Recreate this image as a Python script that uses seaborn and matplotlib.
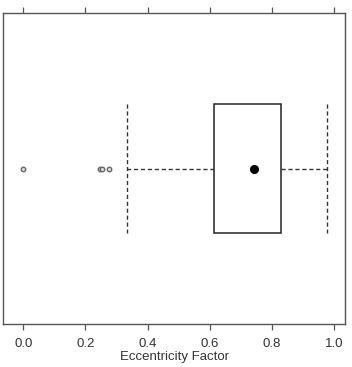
import numpy as np
import pandas as pd
import matplotlib
matplotlib.use("Agg")
import matplotlib.pyplot as plt
import seaborn as sns

# Values (Eccentricity Factor)
outliers = [0.0, 0.247, 0.253, 0.276]
whisker_low = 0.335
q1 = 0.614
median = 0.7425
q3 = 0.829
whisker_high = 0.9765
tick_values = [0.0, 0.2, 0.4, 0.6, 0.8, 1.0]
tick_labels = ["0.0", "0.2", "0.4", "0.6", "0.8", "1.0"]
xlabel = "Eccentricity Factor"

# Build a 21-point sample whose box statistics reproduce the summary above
sample = (outliers + [whisker_low] + [q1] * 5 + [median] + [q3] * 5
          + [q3] * 4 + [whisker_high])
df = pd.DataFrame({"value": sample})

sns.set_theme(style="ticks")
plt.rcParams["font.family"] = ["Liberation Sans Narrow", "Liberation Sans", "DejaVu Sans"]

fig = plt.figure(figsize=(3.52, 3.67), dpi=100)
ax = fig.add_axes([3 / 352, 1 - 324 / 367, 342 / 352, 310.7 / 367])

box_w = 0.415
dash = (0, (3, 2))
sns.boxplot(
    data=df, x="value", orient="h", ax=ax, width=box_w, whis=1.5,
    color="white", fill=True, linecolor="black", linewidth=1.1,
    boxprops=dict(facecolor="white", edgecolor="#222222", linewidth=1.1),
    whiskerprops=dict(color="#333333", linestyle=dash, linewidth=1.0),
    capprops=dict(color="#333333", linestyle=dash, linewidth=1.0),
    medianprops=dict(linewidth=0, alpha=0),
    flierprops=dict(marker="o", markersize=3.2, markerfacecolor="#dddddd",
                    markeredgecolor="#666666", markeredgewidth=1.0),
)

# caps spanning the full box height
for line in ax.lines:
    yd = np.asarray(line.get_ydata(), dtype=float)
    xd = np.asarray(line.get_xdata(), dtype=float)
    if len(xd) == 2 and xd[0] == xd[1] and len(yd) == 2 and abs(yd[1] - yd[0]) > 0 and xd[0] in (whisker_low, whisker_high):
        line.set_ydata([-box_w / 2, box_w / 2])

sns.pointplot(data=df, x="value", orient="h", estimator="median", errorbar=None,
              color="black", markers="o", markersize=4.5, ax=ax, linestyle="none")

ax.set_xlim(-0.065, 1.035)
ax.set_ylim(0.5, -0.5)
ax.set_yticks([])
ax.set_ylabel("")
ax.set_xticks(tick_values)
ax.set_xticklabels(tick_labels)
ax.tick_params(axis="x", which="both", top=True, bottom=True, labeltop=False,
               direction="out", length=4, width=0.9, color="#555555",
               labelsize=9.5, labelcolor="#333333", pad=6)
for s in ax.spines.values():
    s.set_visible(True)
    s.set_color("#555555")
    s.set_linewidth(1.0)
ax.set_xlabel(xlabel, fontsize=9.5, color="#333333", labelpad=1,
              family=["Liberation Sans", "DejaVu Sans"])

fig.savefig("out.png", dpi=100)
